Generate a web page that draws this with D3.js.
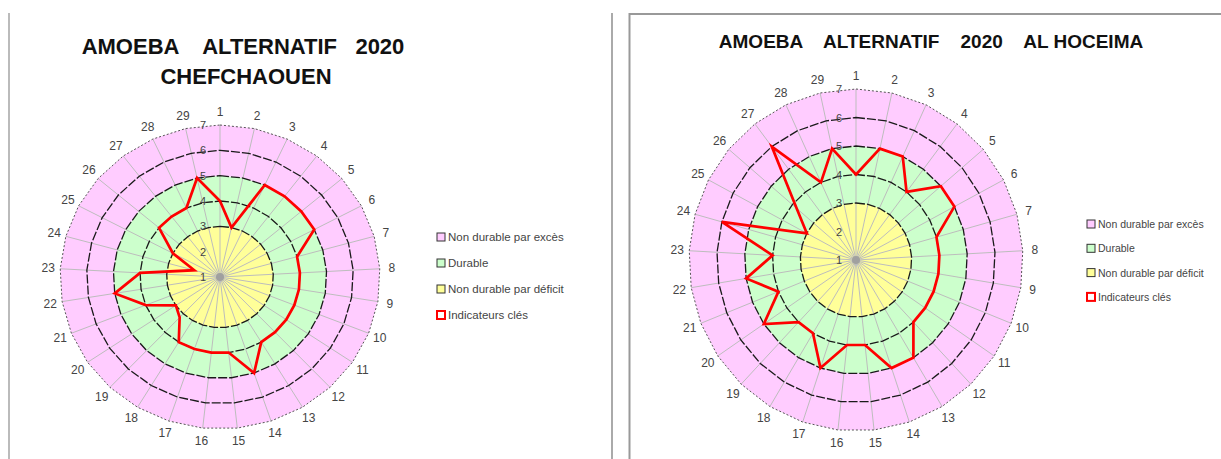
<!DOCTYPE html>
<html lang="fr">
<head>
<meta charset="UTF-8">
<title>Amoeba alternatif 2020</title>
<script src="https://d3js.org/d3.v7.min.js"></script>
<style>
    body { margin: 0; background: #fff; }
    svg { display: block; font-family: "Liberation Sans", Arial, sans-serif; }
    .title { font-weight: bold; fill: #111; white-space: pre; }
    .cat { fill: #444; }
    .tick { fill: #444; }
    .legend text { fill: #444; }
</style>
</head>
<body>
<script>
// indicator numbers round the radar (clockwise from the top)
var categories = ["1", "2", "3", "4", "5", "6", "7", "8", "9", "10",
                  "11", "12", "13", "14", "15", "16", "17", "18", "19", "20",
                  "21", "22", "23", "24", "25", "26", "27", "28", "29"];

// red "indicateurs clés" line, one value per indicator
var chefchaouenValues = [4, 3, 5, 5, 5, 5, 4, 4, 4, 4, 4, 4, 4, 5, 4,
                         4, 4, 4, 3.2, 3, 4, 5, 4, 2, 3, 4, 4, 4, 5];
var alHoceimaValues = [4, 5, 5, 4, 5, 5, 4, 4, 4, 4, 4, 4, 5, 5, 4,
                       4, 5, 4, 4, 5, 4, 5, 4, 6, 3, 3.8, 6, 4, 5];

// filled zones: excès up to 7, durable up to 5, déficit up to 3
var bandLevels = [7, 5, 3];
var ringLevels = [3, 4, 5, 6];
var axisTicks = [1, 2, 3, 4, 5, 6, 7];
var legendLabels = ["Non durable par excès", "Durable", "Non durable par déficit", "Indicateurs clés"];

var width = 1221, height = 459;
var bandColors = ["#ffccff", "#ccffcc", "#ffff99"];

var svg = d3.select("body").append("svg")
    .attr("width", width)
    .attr("height", height);

// panel frames
svg.append("line").attr("x1", 9).attr("x2", 9).attr("y1", 13).attr("y2", height)
    .attr("stroke", "#bbb").attr("stroke-width", 2);
svg.append("line").attr("x1", 612).attr("x2", 612).attr("y1", 13).attr("y2", height)
    .attr("stroke", "#aaa").attr("stroke-width", 2);
svg.append("path").attr("d", "M629.5," + height + "V14H" + width)
    .attr("fill", "none").attr("stroke", "#999").attr("stroke-width", 2);

function drawAmoeba(cfg) {
    var g = svg.append("g")
        .attr("transform", "translate(" + cfg.cx + "," + cfg.cy + ")");

    var angle = d3.scaleLinear().domain([0, categories.length]).range([0, 2 * Math.PI]);
    var r = d3.scaleLinear().domain([1, 7]).range([0, 1]);

    function px(v, i) { return r(v) * cfg.rx * Math.sin(angle(i)); }
    function py(v, i) { return -r(v) * cfg.ry * Math.cos(angle(i)); }

    function ring(level) {
        return d3.line()
            .x(function(d, i) { return px(level, i); })
            .y(function(d, i) { return py(level, i); })
            .curve(d3.curveLinearClosed)(categories);
    }

    // coloured zones
    g.selectAll("path.band")
        .data(bandLevels)
        .enter()
        .append("path")
        .attr("class", "band")
        .attr("d", ring)
        .attr("fill", function(d, i) { return bandColors[i]; });

    // spokes
    g.selectAll("line.spoke")
        .data(categories)
        .enter()
        .append("line")
        .attr("class", "spoke")
        .attr("x1", 0).attr("y1", 0)
        .attr("x2", function(d, i) { return px(7, i); })
        .attr("y2", function(d, i) { return py(7, i); })
        .attr("stroke", "#bdbdbd")
        .attr("stroke-width", 1);

    // gridline rings
    g.selectAll("path.ring")
        .data(ringLevels)
        .enter()
        .append("path")
        .attr("class", "ring")
        .attr("d", ring)
        .attr("fill", "none")
        .attr("stroke", "#1a1a1a")
        .attr("stroke-width", 1.3)
        .attr("stroke-dasharray", "9,2");

    g.append("path")
        .attr("d", ring(7))
        .attr("fill", "none")
        .attr("stroke", "#555")
        .attr("stroke-width", 1)
        .attr("stroke-dasharray", "2,2");

    // centre hub
    g.append("circle").attr("r", 4).attr("fill", "#999").attr("opacity", 0.8);

    // value axis labels along the first spoke
    g.selectAll("text.tick")
        .data(axisTicks)
        .enter()
        .append("text")
        .attr("class", "tick")
        .attr("x", -17)
        .attr("y", function(d) { return -r(d) * cfg.ry + 4; })
        .attr("text-anchor", "middle")
        .attr("font-size", 11)
        .text(function(d) { return d; });

    // key indicators line
    g.append("path")
        .datum(cfg.values)
        .attr("d", d3.line()
            .x(function(d, i) { return px(d, i); })
            .y(function(d, i) { return py(d, i); })
            .curve(d3.curveLinearClosed))
        .attr("fill", "none")
        .attr("stroke", "#ff0000")
        .attr("stroke-width", 2.7)
        .attr("stroke-linejoin", "miter");

    // indicator numbers
    g.selectAll("text.cat")
        .data(categories)
        .enter()
        .append("text")
        .attr("class", "cat")
        .attr("x", function(d, i) { return (cfg.rx + 12) * Math.sin(angle(i)); })
        .attr("y", function(d, i) { return -(cfg.ry + 13) * Math.cos(angle(i)) + 4; })
        .attr("text-anchor", "middle")
        .attr("font-size", 12)
        .text(function(d) { return d; });

    // legend
    var leg = svg.append("g").attr("class", "legend")
        .attr("transform", "translate(" + cfg.legendX + "," + cfg.legendY + ")");
    var item = leg.selectAll("g")
        .data(legendLabels)
        .enter()
        .append("g")
        .attr("transform", function(d, i) { return "translate(0," + i * cfg.legendStep + ")"; });
    item.append("rect")
        .attr("x", 0).attr("y", -4)
        .attr("width", 8).attr("height", 8)
        .attr("fill", function(d, i) { return i < 3 ? bandColors[i] : "#fff"; })
        .attr("stroke", function(d, i) { return i < 3 ? "#333" : "#ff0000"; })
        .attr("stroke-width", function(d, i) { return i < 3 ? 1 : 2; });
    item.append("text")
        .attr("x", 11)
        .attr("y", 4)
        .attr("font-size", cfg.legendFont)
        .text(function(d) { return d; });
}

// titles
svg.append("text").attr("class", "title")
    .attr("x", 243).attr("y", 54)
    .attr("text-anchor", "middle").attr("font-size", 22)
    .text("AMOEBA    ALTERNATIF   2020");
svg.append("text").attr("class", "title")
    .attr("x", 246).attr("y", 84)
    .attr("text-anchor", "middle").attr("font-size", 22)
    .text("CHEFCHAOUEN");
svg.append("text").attr("class", "title")
    .attr("x", 931).attr("y", 48)
    .attr("text-anchor", "middle").attr("font-size", 19)
    .text("AMOEBA    ALTERNATIF    2020    AL HOCEIMA");

drawAmoeba({
    cx: 220, cy: 277, rx: 160, ry: 152,
    values: chefchaouenValues,
    legendX: 437, legendY: 237, legendStep: 26, legendFont: 11.5
});

drawAmoeba({
    cx: 856, cy: 260, rx: 167, ry: 171,
    values: alHoceimaValues,
    legendX: 1087, legendY: 224, legendStep: 24.3, legendFont: 10.5
});
</script>
</body>
</html>
